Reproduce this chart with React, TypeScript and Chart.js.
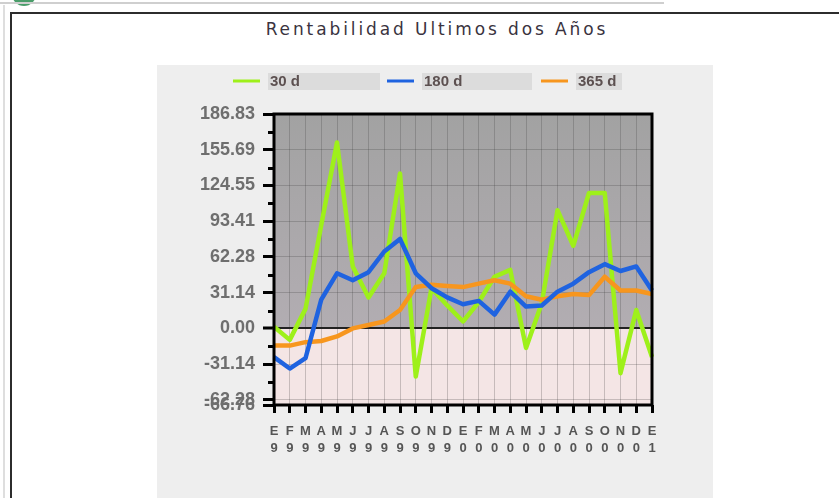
import React, { useEffect, useRef } from "react";
import { Chart, registerables } from "chart.js";

Chart.register(...registerables);

const monthLabels = ["E", "F", "M", "A", "M", "J", "J", "A", "S", "O", "N", "D", "E", "F", "M", "A", "M", "J", "J", "A", "S", "O", "N", "D", "E"];
const yearLabels = ["9", "9", "9", "9", "9", "9", "9", "9", "9", "9", "9", "9", "0", "0", "0", "0", "0", "0", "0", "0", "0", "0", "0", "0", "1"];

const serie30 = [1.5, -10, 17, 90, 162, 54, 27, 48, 135, -42, 35, 20, 6, 23, 45, 51, -17, 22, 103, 72, 118, 118, -39, 16, -25];
const serie180 = [-25, -35, -26, 25, 48, 42, 49, 67, 78, 48, 35, 27, 21, 24, 12, 32, 19, 20, 32, 39, 49, 56, 50, 54, 33];
const serie365 = [-15, -15, -12, -11, -7, 0, 3, 6, 16, 36, 38, 37, 36, 39, 42, 39, 28, 25, 28, 30, 29, 45, 33, 33, 30];

const seriesNames = ["30 d", "180 d", "365 d"];
const seriesColors = ["#9ef01a", "#1f63e0", "#f7961e"];

const yMin = -66.76;
const yMax = 186.83;
const yMajorTicks = [-66.76, -62.28, -31.14, 0, 31.14, 62.28, 93.41, 124.55, 155.69, 186.83];
const yMinorTicks = [-46.71, -15.57, 15.57, 46.71, 77.85, 108.98, 140.12, 171.26];

const chartTitle = "Rentabilidad Ultimos dos Años";

const bgPlugin = {
  id: "bgPlugin",
  beforeDraw(chart: any) {
    const { ctx, chartArea, scales } = chart;
    const y0 = scales.y.getPixelForValue(0);
    ctx.save();
    const g = ctx.createLinearGradient(0, chartArea.top, 0, y0);
    g.addColorStop(0, "#a2a2a2");
    g.addColorStop(1, "#b2adb2");
    ctx.fillStyle = g;
    ctx.fillRect(chartArea.left, chartArea.top, chartArea.right - chartArea.left, y0 - chartArea.top);
    ctx.fillStyle = "#f4e5e5";
    ctx.fillRect(chartArea.left, y0, chartArea.right - chartArea.left, chartArea.bottom - y0);
    ctx.restore();
  },
  afterDatasetsDraw(chart: any) {
    const { ctx, chartArea, scales } = chart;
    ctx.save();
    ctx.strokeStyle = "#000";
    ctx.lineWidth = 3;
    ctx.strokeRect(chartArea.left, chartArea.top, chartArea.right - chartArea.left, chartArea.bottom - chartArea.top);
    for (const v of yMinorTicks) {
      const py = Math.round(scales.y.getPixelForValue(v)) + 0.5;
      ctx.beginPath();
      ctx.moveTo(chartArea.left - 6, py);
      ctx.lineTo(chartArea.left, py);
      ctx.stroke();
    }
    ctx.restore();
  },
  afterDraw(chart: any) {
    const { ctx } = chart;
    const stripW = [112, 110, 46];
    ctx.save();
    ctx.font = "bold 15px 'Liberation Sans', Arial, sans-serif";
    ctx.textBaseline = "middle";
    chart.data.datasets.forEach((ds: any, i: number) => {
      const x0 = 76 + 154 * i;
      const yy = 16;
      ctx.fillStyle = "#dcdcdc";
      ctx.fillRect(x0 + 35, 8, stripW[i], 17);
      ctx.strokeStyle = ds.borderColor;
      ctx.lineWidth = 3;
      ctx.beginPath();
      ctx.moveTo(x0, yy);
      ctx.lineTo(x0 + 27, yy);
      ctx.stroke();
      ctx.fillStyle = "#5c5050";
      ctx.fillText(ds.label, x0 + 37, yy + 1);
    });
    ctx.restore();
  },
};

function ChartCanvas() {
  const ref = useRef<HTMLCanvasElement | null>(null);
  useEffect(() => {
    if (!ref.current) return;
    const labels = monthLabels.map((m, i) => [m, yearLabels[i]]);
    const sets = [serie30, serie180, serie365];
    const orders = [3, 1, 2];
    const chart = new Chart(ref.current, {
      type: "line",
      data: {
        labels,
        datasets: sets.map((d, i) => ({
          label: seriesNames[i],
          data: d,
          borderColor: seriesColors[i],
          backgroundColor: seriesColors[i],
          borderWidth: 4.5,
          borderJoinStyle: "round",
          pointRadius: 0,
          tension: 0,
          fill: false,
          order: orders[i],
        })),
      },
      options: {
        responsive: false,
        animation: false,
        devicePixelRatio: 1,
        layout: { padding: { left: 0, top: 49, right: 61, bottom: 0 } },
        plugins: {
          legend: { display: false },
          title: { display: false },
          tooltip: { enabled: false },
        },
        scales: {
          x: {
            type: "category",
            offset: false,
            afterFit: (s: any) => {
              s.height = 93;
            },
            ticks: {
              autoSkip: false,
              maxRotation: 0,
              minRotation: 0,
              padding: 10,
              color: "#555555",
              font: { family: "'Liberation Sans', Arial, sans-serif", size: 13, weight: "bold", lineHeight: 1.3 },
            },
            grid: {
              color: (c: any) => (c.index === 0 || c.index === monthLabels.length - 1 ? "rgba(0,0,0,0)" : "rgba(60,60,60,0.25)"),
              lineWidth: 1,
              tickColor: "#000",
              tickWidth: 3,
              tickLength: 8,
            },
            border: { display: false },
          },
          y: {
            min: yMin,
            max: yMax,
            afterBuildTicks: (s: any) => {
              s.ticks = [...yMajorTicks, ...yMinorTicks].sort((a, b) => a - b).map((v) => ({ value: v }));
            },
            afterFit: (s: any) => {
              s.width = 117;
            },
            ticks: {
              autoSkip: false,
              padding: 8,
              color: "#6e6e6e",
              font: { family: "'Liberation Sans', Arial, sans-serif", size: 18, weight: "bold" },
              callback: (v: any) => (yMajorTicks.includes(v) ? Number(v).toFixed(2) : ""),
            },
            grid: {
              color: (c: any) => {
                const v = c.tick ? c.tick.value : null;
                if (v === 0) return "#222";
                if (v === yMin || v === yMax) return "rgba(0,0,0,0)";
                if (yMajorTicks.includes(v)) return "rgba(60,60,60,0.25)";
                return "rgba(0,0,0,0)";
              },
              lineWidth: (c: any) => (c.tick && c.tick.value === 0 ? 2 : 1),
              tickColor: (c: any) => (c.tick && yMajorTicks.includes(c.tick.value) ? "#000" : "rgba(0,0,0,0)"),
              tickWidth: 3,
              tickLength: 11,
            },
            border: { display: false },
          },
        },
      },
      plugins: [bgPlugin],
    } as any);
    return () => chart.destroy();
  }, []);
  return <canvas ref={ref} width={556} height={433} style={{ position: "absolute", left: 157, top: 65, width: 556, height: 433 }} />;
}

export default function App() {
  return (
    <div style={{ position: "fixed", left: 0, top: 0, width: 839, height: 498, background: "#fff", overflow: "hidden" }}>
      <div style={{ position: "absolute", left: 12, top: -18, width: 24, height: 24, borderRadius: 12, background: "#4a9d6a" }} />
      <div style={{ position: "absolute", left: 0, top: 2, width: 664, height: 2, background: "#cfcfcf" }} />
      <div style={{ position: "absolute", left: 3, top: 5, width: 2, height: 493, background: "#dedede" }} />
      <div style={{ position: "absolute", left: 10, top: 12, width: 860, height: 520, border: "2px solid #2c2c2c", boxSizing: "border-box" }} />
      <div style={{ position: "absolute", left: 157, top: 65, width: 556, height: 433, background: "#eeeeee" }} />
      <div
        style={{
          position: "absolute",
          left: 137,
          top: 19,
          width: 600,
          textAlign: "center",
          fontFamily: "'DejaVu Sans', Verdana, sans-serif",
          fontSize: 17,
          letterSpacing: 2.9,
          color: "#3a3340",
          whiteSpace: "nowrap",
        }}
      >
        {chartTitle}
      </div>
      <ChartCanvas />
    </div>
  );
}
